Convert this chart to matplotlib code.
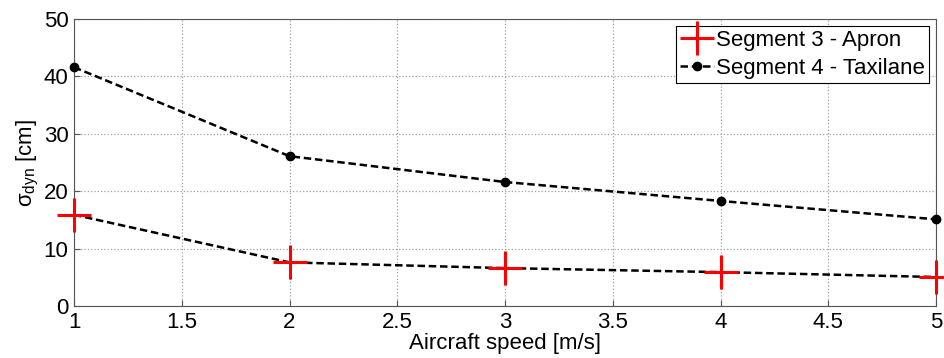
import matplotlib.pyplot as plt
import numpy as np

plt.rcParams["font.family"] = ["Liberation Sans", "DejaVu Sans"]
plt.rcParams["mathtext.fontset"] = "custom"
plt.rcParams["mathtext.rm"] = "Liberation Sans"
plt.rcParams["mathtext.it"] = "Liberation Sans"

speed = [1, 2, 3, 4, 5]
apron = [15.9, 7.6, 6.6, 5.9, 5.05]
taxilane = [41.6, 26.1, 21.6, 18.3, 15.1]

fig = plt.figure(figsize=(9.44, 3.58), dpi=100)
ax = fig.add_axes([74 / 944, 1 - 306 / 358, (936 - 74) / 944, (306 - 19) / 358])

# dashed connecting line for segment 3, markers alone carry the label
ax.plot(speed, apron, "k--", lw=1.8, dashes=(3, 1.5))
ax.plot(speed, apron, "r+", ms=24, mew=2.2, ls="none", label="Segment 3 - Apron",
        clip_on=False, zorder=5)
ax.plot(speed, taxilane, "k--", marker="o", ms=6, lw=1.8, dashes=(3, 1.5),
        label="Segment 4 - Taxilane", clip_on=False, zorder=5)

ax.set_xlim(1, 5)
ax.set_ylim(0, 50)
ax.set_xticks(np.arange(1, 5.01, 0.5))
ax.set_xticklabels(["1", "1.5", "2", "2.5", "3", "3.5", "4", "4.5", "5"])
ax.set_yticks(range(0, 51, 10))
ax.grid(True, ls=":", color="#a0a0a0", lw=0.9)
ax.tick_params(labelsize=16, direction="in", length=4, color="#555555", pad=4)
for s in ax.spines.values():
    s.set_color("#555555")
ax.set_xlabel("Aircraft speed [m/s]", fontsize=16, labelpad=0)
ax.set_ylabel(r"$\sigma_{\rm dyn}$ [cm]", fontsize=16, labelpad=2)

leg = ax.legend(loc="upper right", fontsize=16, handlelength=1.5, handletextpad=0.1,
                borderpad=0.2, labelspacing=0.3, fancybox=False, framealpha=1,
                edgecolor="black", borderaxespad=0.3)
leg.get_frame().set_linewidth(0.8)
leg.set_zorder(10)

fig.savefig("out.png", dpi=100)
